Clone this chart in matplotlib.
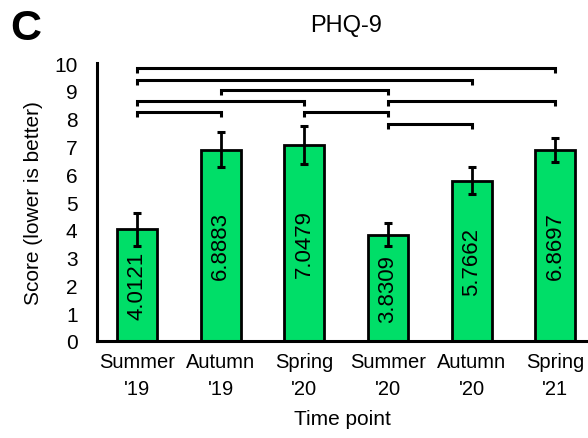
import matplotlib
matplotlib.use('Agg')
import matplotlib.pyplot as plt
import numpy as np

plt.rcParams.update({'font.family': ['Liberation Sans', 'DejaVu Sans'], 'font.size': 14})

timepoints = ["Summer\n'19", "Autumn\n'19", "Spring\n'20", "Summer\n'20", "Autumn\n'20", "Spring\n'21"]
means = [4.0121, 6.8883, 7.0479, 3.8309, 5.7662, 6.8697]
errors = [0.61, 0.63, 0.68, 0.43, 0.48, 0.44]
# significance brackets: (left bar, right bar, height)
brackets = [(0, 5, 9.82), (0, 4, 9.39), (1, 3, 9.03), (0, 2, 8.63), (3, 5, 8.63),
            (0, 1, 8.24), (2, 3, 8.24), (3, 4, 7.81)]

BAR_COLOR = '#00DE68'

fig = plt.figure(figsize=(5.88, 4.39), dpi=100)
ax = fig.add_axes([0.165, 0.221, 0.835, 0.633])

x = np.arange(len(means))
ax.bar(x, means, width=0.48, color=BAR_COLOR, edgecolor='black', linewidth=2.0, zorder=2)
ax.errorbar(x, means, yerr=errors, fmt='none', ecolor='black', elinewidth=2.0,
            capsize=3, capthick=2.2, zorder=3)

for xi, m in zip(x, means):
    ax.text(xi, m / 2, f'{m:.4f}', rotation=90, ha='center', va='center', fontsize=16, zorder=4)

drop = 0.18
for a, b, h in brackets:
    ax.plot([a, a, b, b], [h - drop, h, h, h - drop], color='black', linewidth=2.2,
            solid_capstyle='butt', solid_joinstyle='miter', clip_on=False)

ax.set_xlim(-0.478, 5.39)
ax.set_ylim(0, 10)
ax.set_yticks(range(0, 11))
ax.set_xticks(x)
ax.set_xticklabels(timepoints, fontsize=14.5, linespacing=1.5)
ax.tick_params(axis='both', length=0)
ax.tick_params(axis='y', pad=14, labelsize=15)
ax.tick_params(axis='x', pad=8)
for s in ['top', 'right']:
    ax.spines[s].set_visible(False)
for s in ['left', 'bottom']:
    ax.spines[s].set_linewidth(2.2)

ax.set_ylabel('Score (lower is better)', fontsize=15, labelpad=8)
ax.set_xlabel('Time point', fontsize=15, labelpad=8)

fig.text(0.588, 0.94, 'PHQ-9', ha='center', va='center', fontsize=17)
fig.text(0.018, 0.935, 'C', ha='left', va='center', fontsize=31, fontweight='bold')

fig.savefig('out.png', dpi=100)
